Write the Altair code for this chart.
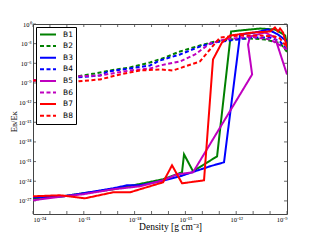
import altair as alt
import pandas as pd

series = ["B1", "B2", "B3", "B4", "B5", "B6", "B7", "B8"]
colors = ["#008000", "#008000", "#0000ff", "#0000ff", "#bf00bf", "#bf00bf", "#ff0000", "#ff0000"]
dashes = [[1, 0], [4, 2.5], [1, 0], [4, 2.5], [1, 0], [4, 2.5], [1, 0], [4, 2.5]]

# log10 density [g cm^-3] and log10 E_B/E_K for each run
B1_x = [-24, -22.23, -21.05, -19.27, -18.09, -16.32, -15.20, -15.08, -14.55, -13.13, -12.30, -11.77, -10.59, -9.71, -9.11, -9.0]
B1_y = [-26.6, -26.3, -25.84, -25.23, -24.62, -23.70, -22.64, -19.89, -22.48, -20.2, -1.14, -0.99, -0.69, -0.84, -1.75, -3.13]

B2_x = [-24, -22.4, -21.4, -20.34, -19.45, -18.27, -17.09, -16.2, -15.32, -14.14, -13.25, -12.36, -11.18, -10.3, -9.41, -9.0]
B2_y = [-8.6, -8.3, -8.0, -7.55, -7.09, -6.63, -5.87, -5.11, -4.19, -3.28, -2.67, -2.36, -2.21, -2.36, -2.9, -4.25]

B3_x = [-24, -22.23, -21.05, -19.27, -18.45, -17.68, -16.5, -15.32, -13.55, -12.72, -11.77, -10.89, -10.12, -9.53, -9.0]
B3_y = [-26.45, -26.3, -25.84, -25.08, -24.62, -24.62, -24.01, -23.25, -21.72, -21.11, -1.6, -1.3, -0.84, -1.6, -2.67]

B4_x = [-24, -21.4, -20.04, -19.57, -18.27, -17.09, -16.5, -15.32, -14.14, -13.25, -12.36, -11.18, -10.0, -9.41, -9.0]
B4_y = [-8.61, -8.16, -7.85, -7.24, -6.78, -6.33, -5.56, -4.65, -3.43, -2.82, -2.52, -2.06, -2.06, -2.67, -3.89]

B5_x = [-24, -22.23, -21.05, -19.27, -17.68, -16.32, -15.49, -14.55, -11.06, -11.30, -11.18, -10.30, -9.71, -9.0]
B5_y = [-26.91, -26.3, -25.99, -25.23, -24.77, -23.86, -22.94, -22.64, -7.70, -3.13, -1.91, -1.3, -2.06, -7.70]

B6_x = [-24, -21.4, -20.04, -18.27, -17.09, -16.5, -15.32, -14.43, -13.55, -12.66, -11.18, -10.0, -9.0]
B6_y = [-8.61, -8.0, -7.85, -7.09, -6.8, -6.33, -5.72, -4.65, -2.97, -2.36, -1.91, -2.36, -3.89]

B7_x = [-24, -22.4, -20.93, -19.27, -18.27, -16.32, -15.79, -15.20, -14.31, -13.90, -13.37, -12.84, -12.36, -11.0, -10.0, -9.71, -9.53, -9.41, -9.23, -9.0]
B7_y = [-26.3, -26.14, -26.6, -25.69, -25.69, -24.16, -21.57, -24.31, -24.01, -23.86, -5.41, -2.82, -1.75, -1.3, -1.14, -0.53, -1.14, -0.69, -1.3, -3.58]

B8_x = [-24, -22.4, -21.4, -20.04, -18.86, -17.68, -16.5, -15.73, -14.14, -13.55, -12.95, -11.77, -10.59, -9.71, -9.41, -9.0]
B8_y = [-8.61, -8.77, -8.77, -8.46, -7.7, -7.09, -6.94, -7.09, -5.72, -3.89, -2.06, -1.75, -1.75, -1.91, -2.21, -3.58]

xs = [B1_x, B2_x, B3_x, B4_x, B5_x, B6_x, B7_x, B8_x]
ys = [B1_y, B2_y, B3_y, B4_y, B5_y, B6_y, B7_y, B8_y]

x_ticks = [1e-24, 1e-21, 1e-18, 1e-15, 1e-12, 1e-9]
y_ticks = [1e0, 1e-3, 1e-6, 1e-9, 1e-12, 1e-15, 1e-18, 1e-21, 1e-24, 1e-27]
x_minor = [1e-24, 1e-23, 1e-22, 1e-21, 1e-20, 1e-19, 1e-18, 1e-17, 1e-16, 1e-15,
           1e-14, 1e-13, 1e-12, 1e-11, 1e-10, 1e-9]

rows = []
for name, lx, ly in zip(series, xs, ys):
    for i, (a, b) in enumerate(zip(lx, ly)):
        rows.append({"series": name, "i": i, "rho": 10 ** a, "ratio": 10 ** b})
df = pd.DataFrame(rows)
xt = pd.DataFrame({"rho": x_minor})
yt = pd.DataFrame({"ratio": y_ticks})

S = "['⁰','¹','²','³','⁴','⁵','⁶','⁷','⁸','⁹']"
N = "round(log(datum.value)/LN10)"
label_expr = (
    f"'10' + ({N} < 0 ? '⁻' : '') + (abs({N}) >= 10 ? {S}[floor(abs({N})/10)] : '') + {S}[abs({N}) % 10]"
)

legend = alt.Legend(
    orient="none", legendX=3, legendY=3, title=None,
    symbolType="stroke", symbolSize=256, symbolStrokeWidth=2,
    labelFont="DejaVu Sans", labelFontSize=7.5, labelOffset=6,
    clipHeight=9, rowPadding=2.6, padding=3,
    strokeColor="black", fillColor="white", cornerRadius=0,
)

xscale = alt.Scale(type="log", domain=[1e-24, 1e-9], nice=False)
yscale = alt.Scale(type="log", domain=[1e-29, 1], nice=False)

lines = alt.Chart(df).mark_line(strokeWidth=2, clip=True).encode(
    x=alt.X("rho:Q", scale=xscale,
            axis=alt.Axis(values=x_ticks, labelExpr=label_expr, title="Density [g cm⁻³]",
                          titleX=137, titleY=12, titleBaseline="middle", titleAlign="center",
                          titleFontSize=9.5)),
    y=alt.Y("ratio:Q", scale=yscale,
            axis=alt.Axis(values=y_ticks, labelExpr=label_expr, title="Eʙ/Eᴋ",
                          titleX=-20, titleY=97, titleAngle=-90, titleBaseline="middle",
                          titleAlign="center", titleFontSize=8.5)),
    color=alt.Color("series:N", scale=alt.Scale(domain=series, range=colors), title=None, legend=legend),
    strokeDash=alt.StrokeDash("series:N", scale=alt.Scale(domain=series, range=dashes), title=None, legend=legend),
    order="i:Q",
)

tick_style = dict(color="#444", strokeWidth=0.8)
xt_bottom = alt.Chart(xt).mark_rule(**tick_style).encode(
    x=alt.X("rho:Q", scale=xscale), y=alt.value(190), y2=alt.value(187))
xt_top = alt.Chart(xt).mark_rule(**tick_style).encode(
    x=alt.X("rho:Q", scale=xscale), y=alt.value(0), y2=alt.value(3))
yt_left = alt.Chart(yt).mark_rule(**tick_style).encode(
    y=alt.Y("ratio:Q", scale=yscale), x=alt.value(0), x2=alt.value(3))
yt_right = alt.Chart(yt).mark_rule(**tick_style).encode(
    y=alt.Y("ratio:Q", scale=yscale), x=alt.value(254), x2=alt.value(251))

chart = alt.layer(xt_bottom, xt_top, yt_left, yt_right, lines).properties(
    width=254, height=190,
    autosize=alt.AutoSizeParams(type="none"),
    padding={"left": 25, "top": 16, "right": 25, "bottom": 18},
).configure_view(
    stroke="#444", strokeWidth=1
).configure_axis(
    domain=False, grid=False, ticks=False, labelPadding=2,
    labelFont="Liberation Serif", labelFontSize=6.5, labelColor="black",
    titleFont="Liberation Serif", titleFontWeight="normal", titleColor="black",
)

chart.save("out.html", embed_options={"renderer": "svg", "actions": False})
